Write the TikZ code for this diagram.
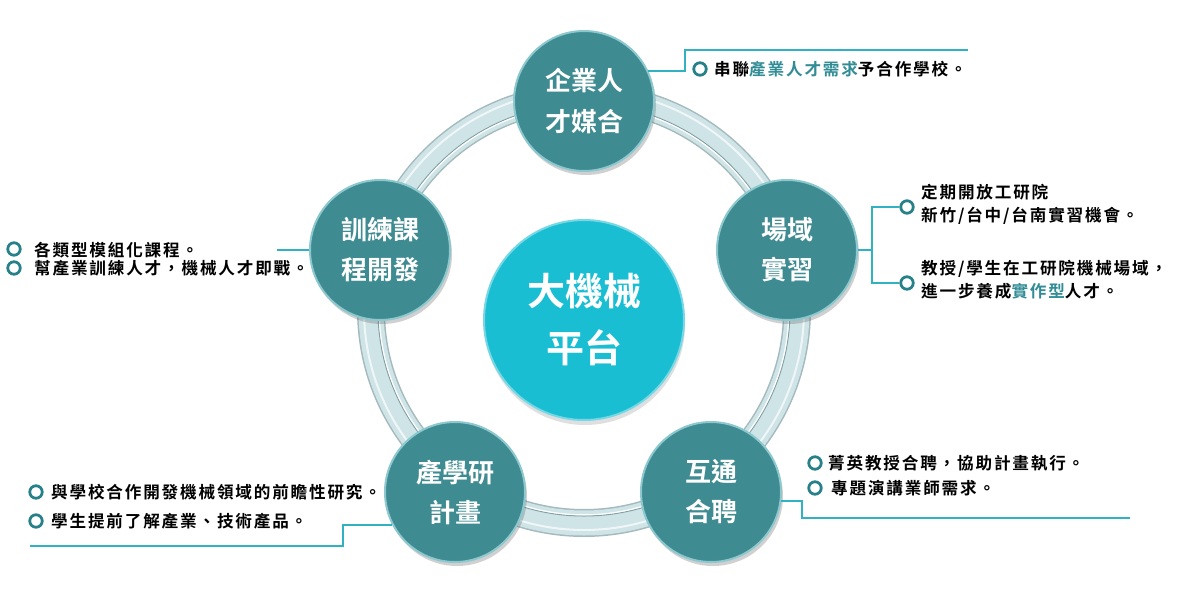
\documentclass[tikz,border=0pt]{standalone}
\usepackage{fontspec}
\setmainfont{Noto Sans CJK TC}[BoldFont={Noto Sans CJK TC Bold}]
\newfontfamily\annofont{Noto Sans CJK TC}[BoldFont={Noto Sans CJK TC Bold},LetterSpace=11]
\usetikzlibrary{shadows}
\definecolor{nodeteal}{RGB}{62,139,145}
\definecolor{noderim}{RGB}{140,200,206}
\definecolor{centercyan}{RGB}{26,190,210}
\definecolor{centerrim}{RGB}{120,215,228}
\definecolor{connc}{RGB}{48,178,195}
\definecolor{bulletc}{RGB}{40,128,136}
\definecolor{hltext}{RGB}{50,140,150}
\definecolor{ringedge}{RGB}{165,186,190}
\definecolor{ringfill}{RGB}{206,228,231}
\definecolor{ringline}{RGB}{130,158,164}
\newcommand\hlt[1]{\textcolor{hltext}{#1}}
\begin{document}
\begin{tikzpicture}[x=1pt,y=-1pt,
  bignode/.style={circle, fill=nodeteal, draw=noderim, line width=2pt,
    minimum size=140pt, inner sep=0pt, text=white, align=center,
    font=\bfseries\fontsize{26}{40}\selectfont,
    drop shadow={shadow xshift=2pt, shadow yshift=-4pt, opacity=0.3, fill=black!60}},
  centernode/.style={circle, fill=centercyan, draw=centerrim, line width=2pt,
    minimum size=200pt, inner sep=0pt, text=white, align=center,
    font=\bfseries\fontsize{38}{57}\selectfont,
    drop shadow={shadow xshift=1pt, shadow yshift=-5pt, opacity=0.25, fill=black!50}},
  conn/.style={draw=connc, line width=2pt},
  bulletnode/.style={circle, draw=bulletc, line width=2.8pt, minimum size=12.5pt, inner sep=0pt},
  anno/.style={inner sep=0pt, anchor=west, align=left,
    font=\annofont\bfseries\fontsize{16.6}{23}\selectfont}
]
\useasboundingbox (0,0) rectangle (1200,600);
\fill[white] (0,0) rectangle (1200,600);

% ring
\coordinate (rc) at (584,310);
\draw[line width=28pt, ringedge] (rc) circle[radius=213pt];
\draw[line width=25pt, ringfill] (rc) circle[radius=213pt];
\draw[line width=2pt, white, opacity=0.7] (rc) circle[radius=220pt];
\draw[line width=1pt, ringline] (rc) circle[radius=206pt];
\draw[line width=1.2pt, white] (rc) circle[radius=204.8pt];

% center
\node[centernode] (c) at (584,320) {大機械\\平台};

% satellites
\node[bignode] (n1) at (584,101) {企業人\\才媒合};
\node[bignode] (n2) at (787,250) {場域\\實習};
\node[bignode] (n3) at (711,492) {互通\\合聘};
\node[bignode] (n4) at (455,492) {產學研\\計畫};
\node[bignode] (n5) at (380,250) {訓練課\\程開發};

% top annotation
\coordinate (t1k) at (685,50);
\coordinate (t1e) at (968,50);
\draw[conn] (n1.25) -- (n1.25 -| t1k) -- (t1k) -- (t1e);
\node[bulletnode] (b1) at (700,69) {};
\node[anno] (a1) at (714,69) {串聯\hlt{產業人才需求}予合作學校。};

% right annotation
\coordinate (r1) at (872,250);
\node[bulletnode] (b2) at (907,207) {};
\node[bulletnode] (b3) at (907,283) {};
\draw[conn] (n2.east) -- (r1);
\draw[conn] (b2.west) -| (r1) |- (b3.west);
\node[anno] (a2) at (921,204) {定期開放工研院\\新竹/台中/台南實習機會。};
\node[anno] (a3) at (921,280) {教授/學生在工研院機械場域，\\進一步養成\hlt{實作型}人才。};

% left annotation
\coordinate (l1) at (277,250);
\draw[conn] (n5.west) -- (l1);
\node[bulletnode] (b4) at (14,249) {};
\node[bulletnode] (b5) at (14,268) {};
\node[anno] (a4) at (34,250) {各類型模組化課程。};
\node[anno] (a5) at (34,268) {幫產業訓練人才，機械人才即戰。};

% lower-left annotation
\coordinate (ll1) at (343,546);
\coordinate (ll2) at (30,546);
\draw[conn] (n4.208) -| (ll1) -- (ll2);
\node[bulletnode] (b6) at (36,492) {};
\node[bulletnode] (b7) at (36,521) {};
\node[anno] (a6) at (51,492) {與學校合作開發機械領域的前瞻性研究。};
\node[anno] (a7) at (51,521) {學生提前了解產業、技術產品。};

% lower-right annotation
\coordinate (rr1) at (802,518);
\coordinate (rr2) at (1130,518);
\draw[conn] (n3.353) -| (rr1) -- (rr2);
\node[bulletnode] (b8) at (815,463) {};
\node[bulletnode] (b9) at (815,488) {};
\node[anno] (a8) at (828,463) {菁英教授合聘，協助計畫執行。};
\node[anno] (a9) at (831,488) {專題演講業師需求。};
\end{tikzpicture}
\end{document}
